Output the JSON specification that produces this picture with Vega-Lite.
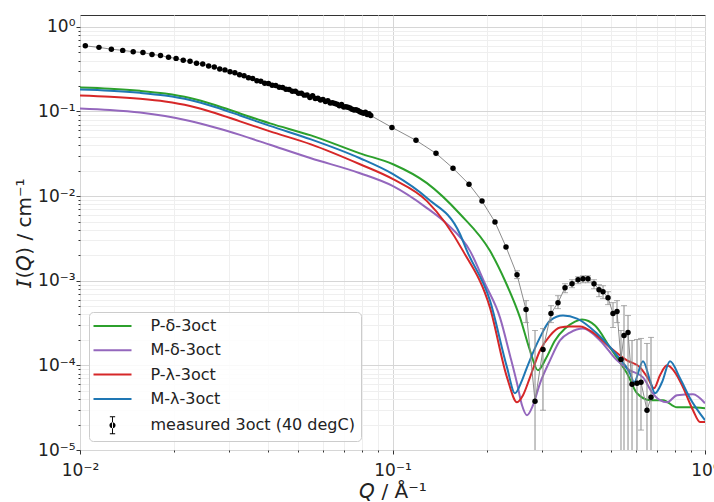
{
  "$schema": "https://vega.github.io/schema/vega-lite/v6.json",
  "width": 625,
  "height": 435,
  "autosize": {"type": "none"},
  "padding": {"left": 80, "top": 15, "right": 9, "bottom": 52},
  "config": {
    "font": "DejaVu Sans",
    "view": {"stroke": "#333333", "strokeWidth": 1},
    "axis": {
      "domain": false,
      "labelFont": "DejaVu Sans",
      "labelFontSize": 17,
      "labelColor": "#222222",
      "titleFont": "DejaVu Sans",
      "titleFontSize": 20,
      "titleFontWeight": "normal",
      "titleColor": "#222222",
      "tickColor": "#333333",
      "labelOverlap": false,
      "labelFlush": false
    },
    "legend": {
      "orient": "bottom-left",
      "offset": 9,
      "padding": 6,
      "strokeColor": "#cccccc",
      "fillColor": "rgba(255,255,255,0.85)",
      "cornerRadius": 4,
      "labelFont": "DejaVu Sans",
      "labelFontSize": 16,
      "labelColor": "#222222",
      "labelLimit": 400
    }
  },
  "datasets": {
    "models": [
      {"series": "P-δ-3oct", "q": 0.01, "i": 0.1916},
      {"series": "P-δ-3oct", "q": 0.01247, "i": 0.1855},
      {"series": "P-δ-3oct", "q": 0.01556, "i": 0.1752},
      {"series": "P-δ-3oct", "q": 0.01871, "i": 0.1628},
      {"series": "P-δ-3oct", "q": 0.02249, "i": 0.1441},
      {"series": "P-δ-3oct", "q": 0.02704, "i": 0.1192},
      {"series": "P-δ-3oct", "q": 0.03251, "i": 0.0947},
      {"series": "P-δ-3oct", "q": 0.04055, "i": 0.0723},
      {"series": "P-δ-3oct", "q": 0.05483, "i": 0.0522},
      {"series": "P-δ-3oct", "q": 0.0787, "i": 0.032},
      {"series": "P-δ-3oct", "q": 0.1004, "i": 0.0238},
      {"series": "P-δ-3oct", "q": 0.1289, "i": 0.01422},
      {"series": "P-δ-3oct", "q": 0.1644, "i": 0.00614},
      {"series": "P-δ-3oct", "q": 0.2051, "i": 0.002254},
      {"series": "P-δ-3oct", "q": 0.2291, "i": 0.001},
      {"series": "P-δ-3oct", "q": 0.2559, "i": 0.000367},
      {"series": "P-δ-3oct", "q": 0.2754, "i": 0.00015},
      {"series": "P-δ-3oct", "q": 0.2921, "i": 0.0000873},
      {"series": "P-δ-3oct", "q": 0.3099, "i": 0.000121},
      {"series": "P-δ-3oct", "q": 0.3311, "i": 0.000197},
      {"series": "P-δ-3oct", "q": 0.3565, "i": 0.000272},
      {"series": "P-δ-3oct", "q": 0.3837, "i": 0.000329},
      {"series": "P-δ-3oct", "q": 0.404, "i": 0.000348},
      {"series": "P-δ-3oct", "q": 0.4446, "i": 0.000295},
      {"series": "P-δ-3oct", "q": 0.4966, "i": 0.000163},
      {"series": "P-δ-3oct", "q": 0.5346, "i": 0.0001085},
      {"series": "P-δ-3oct", "q": 0.5629, "i": 0.0000805},
      {"series": "P-δ-3oct", "q": 0.6059, "i": 0.0000468},
      {"series": "P-δ-3oct", "q": 0.6668, "i": 0.0000388},
      {"series": "P-δ-3oct", "q": 0.7339, "i": 0.0000388},
      {"series": "P-δ-3oct", "q": 0.8136, "i": 0.000032},
      {"series": "P-δ-3oct", "q": 0.8954, "i": 0.000032},
      {"series": "P-δ-3oct", "q": 1.0, "i": 0.0000312},

      {"series": "M-δ-3oct", "q": 0.01, "i": 0.1085},
      {"series": "M-δ-3oct", "q": 0.01247, "i": 0.1041},
      {"series": "M-δ-3oct", "q": 0.01556, "i": 0.0973},
      {"series": "M-δ-3oct", "q": 0.01871, "i": 0.0885},
      {"series": "M-δ-3oct", "q": 0.02249, "i": 0.0773},
      {"series": "M-δ-3oct", "q": 0.02704, "i": 0.0648},
      {"series": "M-δ-3oct", "q": 0.03251, "i": 0.0529},
      {"series": "M-δ-3oct", "q": 0.04055, "i": 0.0404},
      {"series": "M-δ-3oct", "q": 0.05483, "i": 0.028},
      {"series": "M-δ-3oct", "q": 0.0787, "i": 0.01865},
      {"series": "M-δ-3oct", "q": 0.1004, "i": 0.01311},
      {"series": "M-δ-3oct", "q": 0.1289, "i": 0.00722},
      {"series": "M-δ-3oct", "q": 0.1494, "i": 0.00468},
      {"series": "M-δ-3oct", "q": 0.177, "i": 0.002254},
      {"series": "M-δ-3oct", "q": 0.1977, "i": 0.000922},
      {"series": "M-δ-3oct", "q": 0.2208, "i": 0.000367},
      {"series": "M-δ-3oct", "q": 0.2377, "i": 0.000131},
      {"series": "M-δ-3oct", "q": 0.2503, "i": 0.0000614},
      {"series": "M-δ-3oct", "q": 0.2597, "i": 0.0000338},
      {"series": "M-δ-3oct", "q": 0.2694, "i": 0.0000258},
      {"series": "M-δ-3oct", "q": 0.2816, "i": 0.0000338},
      {"series": "M-δ-3oct", "q": 0.2965, "i": 0.0000614},
      {"series": "M-δ-3oct", "q": 0.3192, "i": 0.0001145},
      {"series": "M-δ-3oct", "q": 0.3436, "i": 0.000197},
      {"series": "M-δ-3oct", "q": 0.3698, "i": 0.000244},
      {"series": "M-δ-3oct", "q": 0.407, "i": 0.000272},
      {"series": "M-δ-3oct", "q": 0.4613, "i": 0.000197},
      {"series": "M-δ-3oct", "q": 0.5229, "i": 0.0001145},
      {"series": "M-δ-3oct", "q": 0.5754, "i": 0.0000873},
      {"series": "M-δ-3oct", "q": 0.6333, "i": 0.0000722},
      {"series": "M-δ-3oct", "q": 0.6767, "i": 0.0000481},
      {"series": "M-δ-3oct", "q": 0.7178, "i": 0.0000388},
      {"series": "M-δ-3oct", "q": 0.7559, "i": 0.0000367},
      {"series": "M-δ-3oct", "q": 0.8136, "i": 0.0000444},
      {"series": "M-δ-3oct", "q": 0.9154, "i": 0.0000456},
      {"series": "M-δ-3oct", "q": 1.0, "i": 0.0000357},

      {"series": "P-λ-3oct", "q": 0.01, "i": 0.1543},
      {"series": "P-λ-3oct", "q": 0.01247, "i": 0.1493},
      {"series": "P-λ-3oct", "q": 0.01556, "i": 0.1411},
      {"series": "P-λ-3oct", "q": 0.01871, "i": 0.1311},
      {"series": "P-λ-3oct", "q": 0.02249, "i": 0.1161},
      {"series": "P-λ-3oct", "q": 0.02704, "i": 0.096},
      {"series": "P-λ-3oct", "q": 0.03251, "i": 0.0763},
      {"series": "P-λ-3oct", "q": 0.04055, "i": 0.0582},
      {"series": "P-λ-3oct", "q": 0.05483, "i": 0.0409},
      {"series": "P-λ-3oct", "q": 0.0787, "i": 0.0238},
      {"series": "P-λ-3oct", "q": 0.1004, "i": 0.01585},
      {"series": "P-λ-3oct", "q": 0.1289, "i": 0.00873},
      {"series": "P-λ-3oct", "q": 0.1681, "i": 0.002254},
      {"series": "P-λ-3oct", "q": 0.2051, "i": 0.000481},
      {"series": "P-λ-3oct", "q": 0.2325, "i": 0.0000722},
      {"series": "P-λ-3oct", "q": 0.2503, "i": 0.0000367},
      {"series": "P-λ-3oct", "q": 0.2616, "i": 0.0000444},
      {"series": "P-λ-3oct", "q": 0.2754, "i": 0.0000722},
      {"series": "P-λ-3oct", "q": 0.2965, "i": 0.00015},
      {"series": "P-λ-3oct", "q": 0.3192, "i": 0.000225},
      {"series": "P-λ-3oct", "q": 0.3436, "i": 0.00028},
      {"series": "P-λ-3oct", "q": 0.3698, "i": 0.000288},
      {"series": "P-λ-3oct", "q": 0.3981, "i": 0.000288},
      {"series": "P-λ-3oct", "q": 0.4382, "i": 0.000244},
      {"series": "P-λ-3oct", "q": 0.4966, "i": 0.000163},
      {"series": "P-λ-3oct", "q": 0.5629, "i": 0.0001145},
      {"series": "P-λ-3oct", "q": 0.6194, "i": 0.0000947},
      {"series": "P-λ-3oct", "q": 0.657, "i": 0.0000703},
      {"series": "P-λ-3oct", "q": 0.6867, "i": 0.0000536},
      {"series": "P-λ-3oct", "q": 0.7178, "i": 0.0000763},
      {"series": "P-λ-3oct", "q": 0.7559, "i": 0.0001},
      {"series": "P-λ-3oct", "q": 0.8017, "i": 0.0000827},
      {"series": "P-λ-3oct", "q": 0.8503, "i": 0.0000551},
      {"series": "P-λ-3oct", "q": 0.9154, "i": 0.0000295},
      {"series": "P-λ-3oct", "q": 0.9638, "i": 0.0000214},
      {"series": "P-λ-3oct", "q": 1.0, "i": 0.0000214},

      {"series": "M-λ-3oct", "q": 0.01, "i": 0.1815},
      {"series": "M-λ-3oct", "q": 0.01247, "i": 0.1757},
      {"series": "M-λ-3oct", "q": 0.01556, "i": 0.166},
      {"series": "M-λ-3oct", "q": 0.01871, "i": 0.1543},
      {"series": "M-λ-3oct", "q": 0.02249, "i": 0.1366},
      {"series": "M-λ-3oct", "q": 0.02704, "i": 0.1129},
      {"series": "M-λ-3oct", "q": 0.03251, "i": 0.0897},
      {"series": "M-λ-3oct", "q": 0.04055, "i": 0.0675},
      {"series": "M-λ-3oct", "q": 0.05483, "i": 0.0468},
      {"series": "M-λ-3oct", "q": 0.0787, "i": 0.028},
      {"series": "M-λ-3oct", "q": 0.1004, "i": 0.01815},
      {"series": "M-λ-3oct", "q": 0.1289, "i": 0.00947},
      {"series": "M-λ-3oct", "q": 0.1644, "i": 0.00357},
      {"series": "M-λ-3oct", "q": 0.1731, "i": 0.002254},
      {"series": "M-λ-3oct", "q": 0.2051, "i": 0.000582},
      {"series": "M-λ-3oct", "q": 0.2325, "i": 0.0000947},
      {"series": "M-λ-3oct", "q": 0.2466, "i": 0.0000468},
      {"series": "M-λ-3oct", "q": 0.2597, "i": 0.0000666},
      {"series": "M-λ-3oct", "q": 0.2694, "i": 0.0000947},
      {"series": "M-λ-3oct", "q": 0.2965, "i": 0.000214},
      {"series": "M-λ-3oct", "q": 0.3192, "i": 0.000338},
      {"series": "M-λ-3oct", "q": 0.3513, "i": 0.000388},
      {"series": "M-λ-3oct", "q": 0.3894, "i": 0.000357},
      {"series": "M-λ-3oct", "q": 0.4512, "i": 0.000238},
      {"series": "M-λ-3oct", "q": 0.5229, "i": 0.000131},
      {"series": "M-λ-3oct", "q": 0.5754, "i": 0.0000805},
      {"series": "M-λ-3oct", "q": 0.5928, "i": 0.0000631},
      {"series": "M-λ-3oct", "q": 0.6333, "i": 0.0001115},
      {"series": "M-λ-3oct", "q": 0.6668, "i": 0.0000666},
      {"series": "M-λ-3oct", "q": 0.6918, "i": 0.0000468},
      {"series": "M-λ-3oct", "q": 0.7285, "i": 0.0000631},
      {"series": "M-λ-3oct", "q": 0.7727, "i": 0.0001115},
      {"series": "M-λ-3oct", "q": 0.8318, "i": 0.0000703},
      {"series": "M-λ-3oct", "q": 0.8954, "i": 0.0000409},
      {"series": "M-λ-3oct", "q": 1.0, "i": 0.0000225}
    ],
    "measured": [
      {"series": "measured 3oct (40 degC)", "q": 0.0104, "i": 0.596},
      {"series": "measured 3oct (40 degC)", "q": 0.0115, "i": 0.572},
      {"series": "measured 3oct (40 degC)", "q": 0.0126, "i": 0.544},
      {"series": "measured 3oct (40 degC)", "q": 0.0137, "i": 0.527},
      {"series": "measured 3oct (40 degC)", "q": 0.0148, "i": 0.508},
      {"series": "measured 3oct (40 degC)", "q": 0.0159, "i": 0.497},
      {"series": "measured 3oct (40 degC)", "q": 0.017, "i": 0.472},
      {"series": "measured 3oct (40 degC)", "q": 0.0181, "i": 0.459},
      {"series": "measured 3oct (40 degC)", "q": 0.0192, "i": 0.436},
      {"series": "measured 3oct (40 degC)", "q": 0.0203, "i": 0.424},
      {"series": "measured 3oct (40 degC)", "q": 0.0214, "i": 0.402},
      {"series": "measured 3oct (40 degC)", "q": 0.0225, "i": 0.392},
      {"series": "measured 3oct (40 degC)", "q": 0.0236, "i": 0.372},
      {"series": "measured 3oct (40 degC)", "q": 0.0247, "i": 0.363},
      {"series": "measured 3oct (40 degC)", "q": 0.0258, "i": 0.345},
      {"series": "measured 3oct (40 degC)", "q": 0.0269, "i": 0.336},
      {"series": "measured 3oct (40 degC)", "q": 0.028, "i": 0.318},
      {"series": "measured 3oct (40 degC)", "q": 0.0291, "i": 0.31},
      {"series": "measured 3oct (40 degC)", "q": 0.0302, "i": 0.294},
      {"series": "measured 3oct (40 degC)", "q": 0.0313, "i": 0.287},
      {"series": "measured 3oct (40 degC)", "q": 0.0324, "i": 0.271},
      {"series": "measured 3oct (40 degC)", "q": 0.0335, "i": 0.265},
      {"series": "measured 3oct (40 degC)", "q": 0.0346, "i": 0.25},
      {"series": "measured 3oct (40 degC)", "q": 0.0357, "i": 0.245},
      {"series": "measured 3oct (40 degC)", "q": 0.0368, "i": 0.23},
      {"series": "measured 3oct (40 degC)", "q": 0.0379, "i": 0.227},
      {"series": "measured 3oct (40 degC)", "q": 0.039, "i": 0.216},
      {"series": "measured 3oct (40 degC)", "q": 0.0401, "i": 0.214},
      {"series": "measured 3oct (40 degC)", "q": 0.0412, "i": 0.204},
      {"series": "measured 3oct (40 degC)", "q": 0.0423, "i": 0.203},
      {"series": "measured 3oct (40 degC)", "q": 0.0434, "i": 0.193},
      {"series": "measured 3oct (40 degC)", "q": 0.0445, "i": 0.192},
      {"series": "measured 3oct (40 degC)", "q": 0.0456, "i": 0.183},
      {"series": "measured 3oct (40 degC)", "q": 0.0467, "i": 0.182},
      {"series": "measured 3oct (40 degC)", "q": 0.0478, "i": 0.173},
      {"series": "measured 3oct (40 degC)", "q": 0.0489, "i": 0.173},
      {"series": "measured 3oct (40 degC)", "q": 0.05, "i": 0.164},
      {"series": "measured 3oct (40 degC)", "q": 0.0511, "i": 0.164},
      {"series": "measured 3oct (40 degC)", "q": 0.0522, "i": 0.156},
      {"series": "measured 3oct (40 degC)", "q": 0.0533, "i": 0.157},
      {"series": "measured 3oct (40 degC)", "q": 0.0544, "i": 0.146},
      {"series": "measured 3oct (40 degC)", "q": 0.0555, "i": 0.153},
      {"series": "measured 3oct (40 degC)", "q": 0.0566, "i": 0.142},
      {"series": "measured 3oct (40 degC)", "q": 0.0577, "i": 0.143},
      {"series": "measured 3oct (40 degC)", "q": 0.0588, "i": 0.137},
      {"series": "measured 3oct (40 degC)", "q": 0.0599, "i": 0.139},
      {"series": "measured 3oct (40 degC)", "q": 0.061, "i": 0.131},
      {"series": "measured 3oct (40 degC)", "q": 0.0621, "i": 0.134},
      {"series": "measured 3oct (40 degC)", "q": 0.0632, "i": 0.126},
      {"series": "measured 3oct (40 degC)", "q": 0.0643, "i": 0.1265},
      {"series": "measured 3oct (40 degC)", "q": 0.0654, "i": 0.124},
      {"series": "measured 3oct (40 degC)", "q": 0.0665, "i": 0.1218},
      {"series": "measured 3oct (40 degC)", "q": 0.0676, "i": 0.117},
      {"series": "measured 3oct (40 degC)", "q": 0.0687, "i": 0.121},
      {"series": "measured 3oct (40 degC)", "q": 0.0698, "i": 0.113},
      {"series": "measured 3oct (40 degC)", "q": 0.0709, "i": 0.1135},
      {"series": "measured 3oct (40 degC)", "q": 0.072, "i": 0.112},
      {"series": "measured 3oct (40 degC)", "q": 0.0731, "i": 0.1098},
      {"series": "measured 3oct (40 degC)", "q": 0.0742, "i": 0.106},
      {"series": "measured 3oct (40 degC)", "q": 0.0753, "i": 0.104},
      {"series": "measured 3oct (40 degC)", "q": 0.0764, "i": 0.105},
      {"series": "measured 3oct (40 degC)", "q": 0.0775, "i": 0.1027},
      {"series": "measured 3oct (40 degC)", "q": 0.0786, "i": 0.099},
      {"series": "measured 3oct (40 degC)", "q": 0.0797, "i": 0.097},
      {"series": "measured 3oct (40 degC)", "q": 0.0808, "i": 0.095},
      {"series": "measured 3oct (40 degC)", "q": 0.0819, "i": 0.098},
      {"series": "measured 3oct (40 degC)", "q": 0.083, "i": 0.092},
      {"series": "measured 3oct (40 degC)", "q": 0.0841, "i": 0.094},
      {"series": "measured 3oct (40 degC)", "q": 0.0852, "i": 0.0895},
      {"series": "measured 3oct (40 degC)", "q": 0.0996, "i": 0.0648},
      {"series": "measured 3oct (40 degC)", "q": 0.1189, "i": 0.0456},
      {"series": "measured 3oct (40 degC)", "q": 0.1378, "i": 0.032},
      {"series": "measured 3oct (40 degC)", "q": 0.1562, "i": 0.02136},
      {"series": "measured 3oct (40 degC)", "q": 0.1757, "i": 0.01384},
      {"series": "measured 3oct (40 degC)", "q": 0.1934, "i": 0.00873},
      {"series": "measured 3oct (40 degC)", "q": 0.2128, "i": 0.00494},
      {"series": "measured 3oct (40 degC)", "q": 0.2308, "i": 0.00251},
      {"series": "measured 3oct (40 degC)", "q": 0.2503, "i": 0.001177, "lo": 0.00106, "hi": 0.00131},
      {"series": "measured 3oct (40 degC)", "q": 0.2675, "i": 0.000456, "lo": 0.00032, "hi": 0.000582},
      {"series": "measured 3oct (40 degC)", "q": 0.2858, "i": 0.0000377, "lo": 0.0000001, "hi": 0.000258},
      {"series": "measured 3oct (40 degC)", "q": 0.3031, "i": 0.0001543, "lo": 0.0000295, "hi": 0.000272},
      {"series": "measured 3oct (40 degC)", "q": 0.3215, "i": 0.000409, "lo": 0.00032, "hi": 0.000508},
      {"series": "measured 3oct (40 degC)", "q": 0.3385, "i": 0.000551, "lo": 0.000468, "hi": 0.000666},
      {"series": "measured 3oct (40 degC)", "q": 0.3565, "i": 0.000827, "lo": 0.000722, "hi": 0.000922},
      {"series": "measured 3oct (40 degC)", "q": 0.3754, "i": 0.000922, "lo": 0.000827, "hi": 0.001028},
      {"series": "measured 3oct (40 degC)", "q": 0.3924, "i": 0.001028, "lo": 0.000922, "hi": 0.001115},
      {"series": "measured 3oct (40 degC)", "q": 0.407, "i": 0.001056, "lo": 0.000947, "hi": 0.001145},
      {"series": "measured 3oct (40 degC)", "q": 0.4222, "i": 0.001056, "lo": 0.000947, "hi": 0.001145},
      {"series": "measured 3oct (40 degC)", "q": 0.4414, "i": 0.000922, "lo": 0.000805, "hi": 0.001028},
      {"series": "measured 3oct (40 degC)", "q": 0.458, "i": 0.000784, "lo": 0.000648, "hi": 0.000897},
      {"series": "measured 3oct (40 degC)", "q": 0.4717, "i": 0.000742, "lo": 0.000614, "hi": 0.000873},
      {"series": "measured 3oct (40 degC)", "q": 0.4894, "i": 0.000631, "lo": 0.000522, "hi": 0.000742},
      {"series": "measured 3oct (40 degC)", "q": 0.5077, "i": 0.000409, "lo": 0.00028, "hi": 0.000551},
      {"series": "measured 3oct (40 degC)", "q": 0.5229, "i": 0.000432, "lo": 0.00032, "hi": 0.000582},
      {"series": "measured 3oct (40 degC)", "q": 0.5385, "i": 0.0001177, "lo": 0.0000001, "hi": 0.000258},
      {"series": "measured 3oct (40 degC)", "q": 0.5506, "i": 0.000225, "lo": 0.0000001, "hi": 0.000508},
      {"series": "measured 3oct (40 degC)", "q": 0.5671, "i": 0.000244, "lo": 0.0000001, "hi": 0.000388},
      {"series": "measured 3oct (40 degC)", "q": 0.5841, "i": 0.0000598, "lo": 0.0000001, "hi": 0.000197},
      {"series": "measured 3oct (40 degC)", "q": 0.6059, "i": 0.0000614, "lo": 0.0000001, "hi": 0.000202},
      {"series": "measured 3oct (40 degC)", "q": 0.624, "i": 0.0000631, "lo": 0.0000172, "hi": 0.000208},
      {"series": "measured 3oct (40 degC)", "q": 0.6522, "i": 0.0000295, "lo": 0.0000001, "hi": 0.0001815},
      {"series": "measured 3oct (40 degC)", "q": 0.6718, "i": 0.000042, "lo": 0.0000001, "hi": 0.000214}
    ]
  },
  "layer": [
    {
      "data": {"name": "models"},
      "mark": {"type": "line", "strokeWidth": 2, "interpolate": "monotone", "clip": true},
      "encoding": {
        "x": {
          "field": "q", "type": "quantitative", "title": "\uD835\uDE18 / Å⁻¹",
          "scale": {"type": "log", "domain": [0.01, 1], "nice": false},
          "axis": {
            "values": [0.01, 0.02, 0.03, 0.04, 0.05, 0.06, 0.07, 0.08, 0.09, 0.1, 0.2, 0.3, 0.4, 0.5, 0.6, 0.7, 0.8, 0.9, 1],
            "labelExpr": "datum.value == 0.01 ? '10⁻²' : datum.value == 0.1 ? '10⁻¹' : datum.value == 1 ? '10⁰' : ''",
            "gridColor": {"condition": {"test": "datum.value == 0.01 || datum.value == 0.1 || datum.value == 1", "value": "#d6d6d6"}, "value": "#efefef"},
            "tickSize": {"condition": {"test": "datum.value == 0.01 || datum.value == 0.1 || datum.value == 1", "value": 4}, "value": 2},
            "labelPadding": 8,
            "titlePadding": 3
          }
        },
        "y": {
          "field": "i", "type": "quantitative", "title": "\uD835\uDE10(\uD835\uDE18) / cm⁻¹",
          "scale": {"type": "log", "domain": [0.00001, 1.38], "nice": false},
          "axis": {
            "values": [0.00001, 0.00002, 0.00003, 0.00004, 0.00005, 0.00006, 0.00007, 0.00008, 0.00009, 0.0001, 0.0002, 0.0003, 0.0004, 0.0005, 0.0006, 0.0007, 0.0008, 0.0009, 0.001, 0.002, 0.003, 0.004, 0.005, 0.006, 0.007, 0.008, 0.009, 0.01, 0.02, 0.03, 0.04, 0.05, 0.06, 0.07, 0.08, 0.09, 0.1, 0.2, 0.3, 0.4, 0.5, 0.6, 0.7, 0.8, 0.9, 1],
            "labelExpr": "datum.value == 1 ? '10⁰' : datum.value == 0.1 ? '10⁻¹' : datum.value == 0.01 ? '10⁻²' : datum.value == 0.001 ? '10⁻³' : datum.value == 0.0001 ? '10⁻⁴' : datum.value == 0.00001 ? '10⁻⁵' : ''",
            "gridColor": {"condition": {"test": "datum.value == 1 || datum.value == 0.1 || datum.value == 0.01 || datum.value == 0.001 || datum.value == 0.0001 || datum.value == 0.00001", "value": "#d6d6d6"}, "value": "#efefef"},
            "tickSize": {"condition": {"test": "datum.value == 1 || datum.value == 0.1 || datum.value == 0.01 || datum.value == 0.001 || datum.value == 0.0001 || datum.value == 0.00001", "value": 4}, "value": 2},
            "labelPadding": 1,
            "titlePadding": 3
          }
        },
        "color": {
          "field": "series", "type": "nominal",
          "scale": {
            "domain": ["P-δ-3oct", "M-δ-3oct", "P-λ-3oct", "M-λ-3oct", "measured 3oct (40 degC)"],
            "range": ["#2ca02c", "#9467bd", "#d62728", "#1f77b4", "#000000"]
          },
          "legend": {
            "title": null,
            "symbolType": "stroke",
            "symbolSize": 361,
            "symbolStrokeWidth": 2,
            "symbolOffset": 9.5,
            "labelOffset": 30,
            "rowPadding": 8.3,
            "encoding": {
              "symbols": {
                "shape": {"value": {"expr": "datum.value === 'measured 3oct (40 degC)' ? 'M-0.32,0A0.32,0.32 0 1,0 0.32,0A0.32,0.32 0 1,0 -0.32,0Z M-0.05,-0.9H0.05V0.9H-0.05Z M-0.28,-0.95H0.28V-0.85H-0.28Z M-0.28,0.85H0.28V0.95H-0.28Z' : 'M-2,0H2'"}},
                "fill": {"value": {"expr": "datum.value === 'measured 3oct (40 degC)' ? '#000000' : 'transparent'"}},
                "strokeWidth": {"value": {"expr": "datum.value === 'measured 3oct (40 degC)' ? 0 : 2"}}
              }
            }
          }
        }
      }
    },
    {
      "data": {"name": "measured"},
      "mark": {"type": "line", "color": "#8c8c8c", "strokeWidth": 1, "clip": true},
      "encoding": {
        "x": {"field": "q", "type": "quantitative", "title": "\uD835\uDE18 / Å⁻¹"},
        "y": {"field": "i", "type": "quantitative", "title": "\uD835\uDE10(\uD835\uDE18) / cm⁻¹"}
      }
    },
    {
      "data": {"name": "measured"},
      "transform": [{"filter": "isValid(datum.lo)"}],
      "mark": {"type": "rule", "color": "#8c8c8c", "strokeWidth": 1, "clip": true},
      "encoding": {
        "x": {"field": "q", "type": "quantitative", "title": "\uD835\uDE18 / Å⁻¹"},
        "y": {"field": "lo", "type": "quantitative", "title": "\uD835\uDE10(\uD835\uDE18) / cm⁻¹"},
        "y2": {"field": "hi"}
      }
    },
    {
      "data": {"name": "measured"},
      "transform": [{"filter": "isValid(datum.lo)"}],
      "mark": {"type": "tick", "orient": "horizontal", "color": "#8c8c8c", "size": 6, "thickness": 1, "clip": true},
      "encoding": {
        "x": {"field": "q", "type": "quantitative", "title": "\uD835\uDE18 / Å⁻¹"},
        "y": {"field": "hi", "type": "quantitative", "title": "\uD835\uDE10(\uD835\uDE18) / cm⁻¹"}
      }
    },
    {
      "data": {"name": "measured"},
      "transform": [{"filter": "isValid(datum.lo)"}],
      "mark": {"type": "tick", "orient": "horizontal", "color": "#8c8c8c", "size": 6, "thickness": 1, "clip": true},
      "encoding": {
        "x": {"field": "q", "type": "quantitative", "title": "\uD835\uDE18 / Å⁻¹"},
        "y": {"field": "lo", "type": "quantitative", "title": "\uD835\uDE10(\uD835\uDE18) / cm⁻¹"}
      }
    },
    {
      "data": {"name": "measured"},
      "mark": {"type": "point", "filled": true, "size": 30, "opacity": 1, "clip": true},
      "encoding": {
        "x": {"field": "q", "type": "quantitative", "title": "\uD835\uDE18 / Å⁻¹"},
        "y": {"field": "i", "type": "quantitative", "title": "\uD835\uDE10(\uD835\uDE18) / cm⁻¹"},
        "color": {"field": "series", "type": "nominal"}
      }
    }
  ]
}
